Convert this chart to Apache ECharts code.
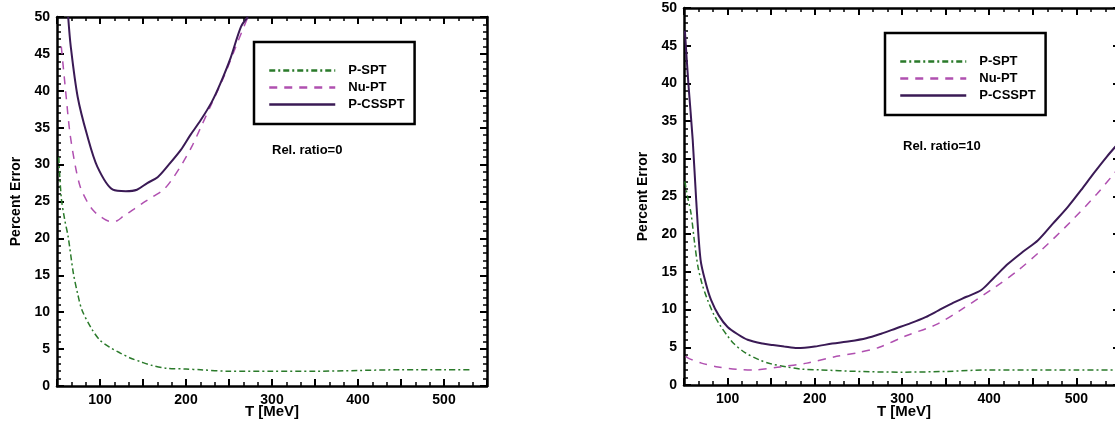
<!DOCTYPE html>
<html>
<head>
<meta charset="utf-8">
<script src="https://cdn.jsdelivr.net/npm/echarts@6/dist/echarts.min.js"></script>
<style>
html,body{margin:0;padding:0;background:#fff;}
#c{width:1115px;height:423px;}
</style>
</head>
<body>
<div id="c"></div>
<script>
// ---- data ----
var seriesNames = ['P-SPT', 'Nu-PT', 'P-CSSPT'];
var xTickLabels = [100, 200, 300, 400, 500];
var xAxisName = 'T [MeV]';
var yAxisName = 'Percent Error';
var leftNote = 'Rel. ratio=0';
var rightNote = 'Rel. ratio=10';

// left panel
var leftPSPT_x = [52, 55, 59, 63, 69, 74, 79, 90, 100, 112, 123, 135, 147, 160, 178, 200, 217, 250, 300, 350, 400, 450, 500, 530];
var leftPSPT_y = [31, 25.5, 22.5, 20.2, 15.3, 12.5, 10.3, 7.8, 6.2, 5.2, 4.5, 3.8, 3.3, 2.8, 2.4, 2.3, 2.2, 2.0, 2.0, 2.0, 2.1, 2.2, 2.2, 2.2];
var leftNuPT_x = [55, 60, 65, 71, 77, 85, 92, 100, 112, 120, 127, 140, 150, 162, 174, 185, 196, 207, 217, 230, 244, 258, 272];
var leftNuPT_y = [46, 40, 34.3, 30, 27, 25, 23.8, 23, 22.3, 22.4, 23, 24, 24.8, 25.7, 26.6, 28.2, 30.2, 32.5, 35, 38.3, 41.9, 46, 50];
var leftPC_x = [63, 66, 74, 85, 97, 115, 130, 143, 155, 167, 180, 194, 205, 217, 230, 240, 252, 264, 272];
var leftPC_y = [50, 46, 39.2, 34, 29.7, 26.6, 26.4, 26.6, 27.5, 28.3, 30, 32, 34, 36, 38.5, 41, 44.5, 48.7, 50];

// right panel
var rightPSPT_x = [51, 54, 58, 62, 66, 71, 77, 84, 92, 100, 107, 120, 137, 150, 168, 185, 206, 250, 300, 350, 400, 450, 500, 550];
var rightPSPT_y = [27, 25, 22.8, 19, 15.7, 13.3, 11.3, 9.4, 7.8, 6.5, 5.5, 4.3, 3.3, 2.8, 2.4, 2.1, 2.0, 1.8, 1.7, 1.8, 2.0, 2.0, 2.0, 2.0];
var rightNuPT_x = [52, 56, 70, 89, 110, 130, 160, 191, 225, 250, 274, 304, 339, 368, 407, 433, 459, 493, 524, 550];
var rightNuPT_y = [3.8, 3.5, 2.9, 2.4, 2.1, 2.0, 2.4, 2.9, 3.8, 4.3, 5.0, 6.5, 8.0, 10.0, 13.0, 15.2, 17.8, 21.6, 25.4, 29.0];
var rightPC_x = [51, 55, 60, 64, 69, 75, 81, 90, 100, 112, 123, 140, 152, 165, 180, 200, 220, 240, 259, 276, 293, 310, 327, 342, 357, 374, 391, 406, 422, 439, 456, 473, 490, 505, 520, 535, 550];
var rightPC_y = [47, 40, 32.5, 24.5, 16.6, 13.5, 11.3, 9.2, 7.7, 6.7, 6.0, 5.5, 5.3, 5.1, 4.9, 5.1, 5.5, 5.8, 6.2, 6.8, 7.5, 8.2, 9.0, 9.9, 10.8, 11.7, 12.6, 14.3, 16.1, 17.7, 19.2, 21.4, 23.6, 25.8, 28.1, 30.3, 32.3];

// ---- build ----
function zip(xs, ys) { return xs.map(function (x, i) { return [x, ys[i]]; }); }
var FONT = 'Liberation Sans';
var colors = ['#2a7a2a', '#b050b0', '#3a1a55'];
var dashes = [[6, 3, 2, 3], [8, 7], 'solid'];
var widths = [1.5, 1.5, 2];

function mkX(gi, pos) {
  var main = pos === 'bottom';
  return {
    type: 'value', gridIndex: gi, position: pos, min: 50, max: 550, interval: 50,
    axisLine: { show: true, onZero: false, lineStyle: { color: '#000', width: 2.5 } },
    axisTick: { show: true, inside: true, length: 7, lineStyle: { color: '#000', width: 2 } },
    minorTick: { show: true, splitNumber: 3, length: 4, lineStyle: { color: '#000', width: 1.5 } },
    axisLabel: {
      show: main, margin: 7, fontFamily: FONT, fontWeight: 'bold', fontSize: 14, color: '#000',
      formatter: function (v) { return xTickLabels.indexOf(v) >= 0 ? String(v) : ''; }
    },
    splitLine: { show: false }
  };
}
function mkY(gi, pos) {
  var main = pos === 'left';
  return {
    type: 'value', gridIndex: gi, position: pos, min: 0, max: 50, interval: 5,
    name: main ? yAxisName : '', nameLocation: 'middle', nameGap: 34,
    nameTextStyle: { fontFamily: FONT, fontWeight: 'bold', fontSize: 14, color: '#000' },
    axisLine: { show: true, onZero: false, lineStyle: { color: '#000', width: 2.5 } },
    axisTick: { show: true, inside: true, length: 7, lineStyle: { color: '#000', width: 2 } },
    minorTick: { show: true, splitNumber: 5, length: 4, lineStyle: { color: '#000', width: 1.5 } },
    axisLabel: { show: main, margin: 7, fontFamily: FONT, fontWeight: 'bold', fontSize: 14, color: '#000' },
    splitLine: { show: false }
  };
}

var panels = [
  [leftPSPT_x, leftPSPT_y, leftNuPT_x, leftNuPT_y, leftPC_x, leftPC_y],
  [rightPSPT_x, rightPSPT_y, rightNuPT_x, rightNuPT_y, rightPC_x, rightPC_y]
];
var series = [];
panels.forEach(function (p, gi) {
  for (var k = 0; k < 3; k++) {
    series.push({
      type: 'line', name: seriesNames[k], xAxisIndex: gi * 2, yAxisIndex: gi * 2,
      data: zip(p[k * 2], p[k * 2 + 1]), smooth: 0.3, symbol: 'none', clip: true,
      lineStyle: { color: colors[k], width: widths[k], type: dashes[k] },
      itemStyle: { color: colors[k] }
    });
  }
});

function mkLegend(left, top) {
  return {
    data: seriesNames, orient: 'vertical', left: left, top: top, align: 'left',
    itemWidth: 66, itemHeight: 12, itemGap: 4, selectedMode: false,
    padding: [22, 10, 13, 14], borderColor: '#000', borderWidth: 2.5,
    backgroundColor: '#fff',
    itemStyle: { color: 'rgba(0,0,0,0)', borderWidth: 0 },
    lineStyle: { width: 2.5 },
    textStyle: { fontFamily: FONT, fontWeight: 'bold', fontSize: 13, color: '#000', padding: [0, 0, 0, 8] }
  };
}

function nameText(cx) {
  return { type: 'text', x: cx, y: 412, style: { text: xAxisName, font: 'bold 15px "Liberation Sans"', fill: '#000', align: 'center', verticalAlign: 'middle' } };
}

var option = {
  backgroundColor: '#fff',
  animation: false,
  grid: [
    { left: 57, width: 430, top: 17, height: 369, outerBoundsMode: 'none', containLabel: false },
    { left: 684, width: 436, top: 8, height: 377, outerBoundsMode: 'none', containLabel: false }
  ],
  xAxis: [mkX(0, 'bottom'), mkX(0, 'top'), mkX(1, 'bottom'), mkX(1, 'top')],
  yAxis: [mkY(0, 'left'), mkY(0, 'right'), mkY(1, 'left'), mkY(1, 'right')],
  legend: [mkLegend(254, 42), mkLegend(885, 33)],
  graphic: [
    nameText(272),
    nameText(904),
    { type: 'text', left: 272, top: 144, style: { text: leftNote, font: 'bold 13px "Liberation Sans"', fill: '#000' } },
    { type: 'text', left: 903, top: 140, style: { text: rightNote, font: 'bold 13px "Liberation Sans"', fill: '#000' } }
  ],
  series: series
};
var chart = echarts.init(document.getElementById('c'), null, { renderer: 'canvas' });
chart.setOption(option);
</script>
</body>
</html>
